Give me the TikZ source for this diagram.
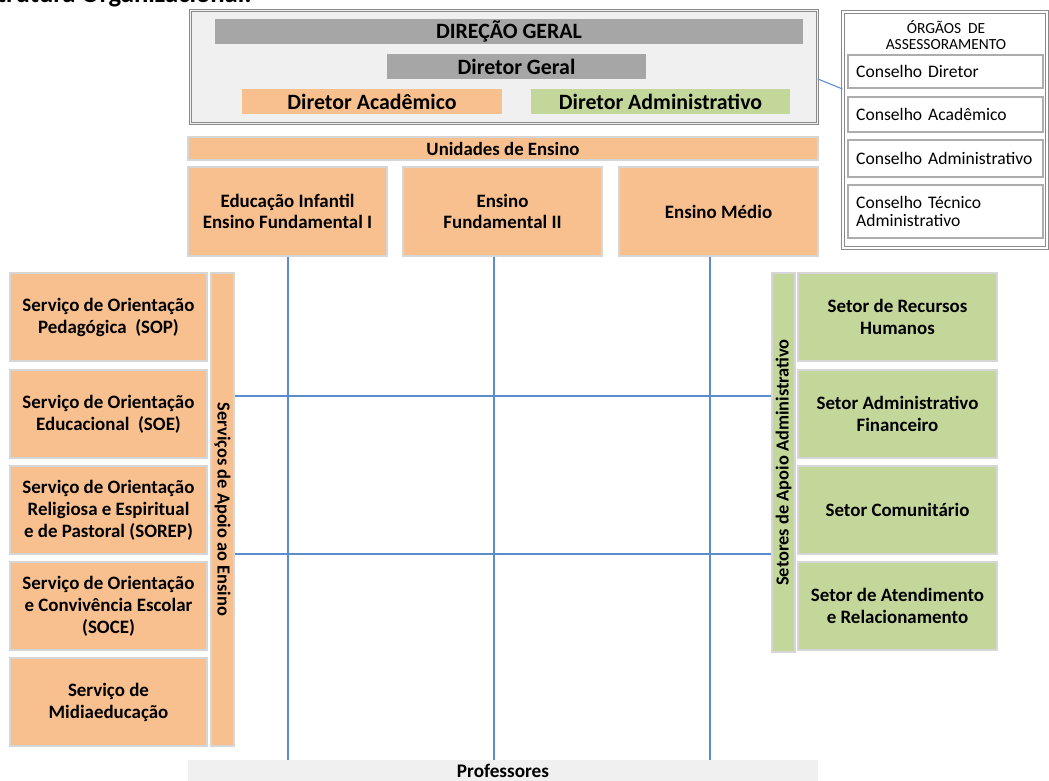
\documentclass[tikz,border=0pt]{standalone}
\usepackage{fontspec}
\setmainfont{Carlito}
\definecolor{orng}{HTML}{F9C08F}
\definecolor{grn}{HTML}{C4D79B}
\definecolor{dgray}{HTML}{A6A6A6}
\definecolor{lgray}{HTML}{F0F0F0}
\definecolor{bord}{HTML}{D6D6D6}
\definecolor{obord}{HTML}{8A8A8A}
\definecolor{lnblue}{HTML}{5B8CCF}
\begin{document}
\begin{tikzpicture}[x=0.75pt,y=-0.75pt,
  every node/.style={inner sep=0pt, align=center},
  bx/.style={draw=bord, line width=1pt, fill=orng, font=\bfseries\fontsize{14.2}{16.5}\selectfont},
  gbx/.style={bx, fill=grn},
  bar/.style={fill=#1, font=\bfseries\fontsize{16.4}{18}\selectfont},
  vbar/.style={draw=bord, line width=1pt, fill=#1, font=\bfseries\fontsize{13.8}{15}\selectfont},
  cbox/.style={draw=obord!70, line width=0.8pt, fill=white, minimum width=146.25pt, text width=134pt, align=left, font=\fontsize{13.2}{13.5}\selectfont},
  conn/.style={draw=lnblue, line width=0.8pt}]
\clip (0,0) rectangle (1049,781);
% title (clipped at the top)
\node[anchor=base east, font=\bfseries\fontsize{20}{22}\selectfont] (title) at (252,3) {Estrutura Organizacional:};
% Direcao Geral block
\node[draw=obord, double=lgray, double distance=0.8pt, line width=0.9pt, fill=lgray, minimum width=470pt, minimum height=85pt] (dir) at (504,67) {};
\node[bar=dgray, minimum width=441pt, minimum height=18.75pt] (dg) at (509,31.5) {DIREÇÃO GERAL};
\node[bar=dgray, minimum width=194.25pt, minimum height=18.75pt] (dgr) at (516.5,66.5) {Diretor Geral};
\node[bar=orng, minimum width=195pt, minimum height=18.75pt] (dac) at (372,101.5) {Diretor Acadêmico};
\node[bar=grn, minimum width=194.25pt, minimum height=18.75pt] (dad) at (660.5,101.5) {Diretor Administrativo};
% Orgaos de assessoramento
\node[draw=obord, double=white, double distance=0.8pt, line width=0.9pt, fill=white, minimum width=153pt, minimum height=177pt] (org) at (945,130) {};
\node[font=\fontsize{11.6}{12}\selectfont] (orgt) at (946,35) {ÓRGÃOS\ \ DE\\ASSESSORAMENTO};
\node[cbox, minimum height=24.75pt] (c1) at (945.5,71.5) {Conselho Diretor};
\node[cbox, minimum height=26.25pt] (c2) at (945.5,114.5) {Conselho Acadêmico};
\node[cbox, minimum height=27.75pt] (c3) at (945.5,158.5) {Conselho Administrativo};
\node[cbox, minimum height=39.75pt] (c4) at (945.5,211.5) {Conselho Técnico\\Administrativo};
\draw[conn] (dir.east |- 0,79) -- (org.west |- 0,89);
% Unidades de ensino
\node[bx, font=\bfseries\fontsize{14.1}{15}\selectfont, minimum width=472.5pt, minimum height=17.25pt] (ue) at (503,148.5) {Unidades de Ensino};
\node[bx, font=\bfseries\fontsize{14.2}{15.75}\selectfont, minimum width=149.25pt, minimum height=66.75pt] (u1) at (287.5,211.5) {Educação Infantil\\Ensino Fundamental I};
\node[bx, font=\bfseries\fontsize{14.2}{15.75}\selectfont, minimum width=149.25pt, minimum height=66.75pt] (u2) at (502.5,211.5) {Ensino\\Fundamental II};
\node[bx, font=\bfseries\fontsize{14.2}{15.75}\selectfont, minimum width=149.25pt, minimum height=66.75pt] (u3) at (718.5,211.5) {Ensino Médio};
% Professores
\node[fill=lgray, minimum width=472.5pt, minimum height=18pt, font=\bfseries\fontsize{14.4}{15}\selectfont] (prof) at (503,772) {\raisebox{1.2pt}{Professores}};
% Left column
\node[bx, minimum width=147.75pt, minimum height=66pt] (s1) at (108.5,317) {Serviço de Orientação\\Pedagógica\ \ (SOP)};
\node[bx, minimum width=147.75pt, minimum height=66pt] (s2) at (108.5,414) {Serviço de Orientação\\Educacional\ \ (SOE)};
\node[bx, minimum width=147.75pt, minimum height=66pt] (s3) at (108.5,510) {Serviço de Orientação\\Religiosa e Espiritual\\e de Pastoral (SOREP)};
\node[bx, minimum width=147.75pt, minimum height=66pt] (s4) at (108.5,606) {Serviço de Orientação\\e Convivência Escolar\\(SOCE)};
\node[bx, minimum width=147.75pt, minimum height=66pt] (s5) at (108.5,702) {Serviço de\\Midiaeducação};
\node[vbar=orng, minimum width=354.75pt, minimum height=17.25pt, rotate=-90] (sae) at (222.5,509.5) {Serviços de Apoio ao Ensino};
% Right column
\node[vbar=grn, minimum width=284.25pt, minimum height=17.25pt, rotate=90] (saa) at (783.5,462.5) {Setores de Apoio Administrativo};
\node[gbx, minimum width=149.25pt, minimum height=66pt] (r1) at (897.5,317) {Setor de Recursos\\Humanos};
\node[gbx, minimum width=149.25pt, minimum height=66pt] (r2) at (897.5,414) {Setor Administrativo\\Financeiro};
\node[gbx, minimum width=149.25pt, minimum height=66pt] (r3) at (897.5,510) {Setor Comunitário};
\node[gbx, minimum width=149.25pt, minimum height=66pt] (r4) at (897.5,606) {Setor de Atendimento\\e Relacionamento};
% connectors
\draw[conn] (u1.south -| 288,0) -- (prof.north -| 288,0);
\draw[conn] (u2.south -| 494,0) -- (prof.north -| 494,0);
\draw[conn] (u3.south -| 710,0) -- (prof.north -| 710,0);
\draw[conn] (sae.north |- 0,396) -- (saa.north |- 0,396);
\draw[conn] (sae.north |- 0,554) -- (saa.north |- 0,554);
\end{tikzpicture}
\end{document}
